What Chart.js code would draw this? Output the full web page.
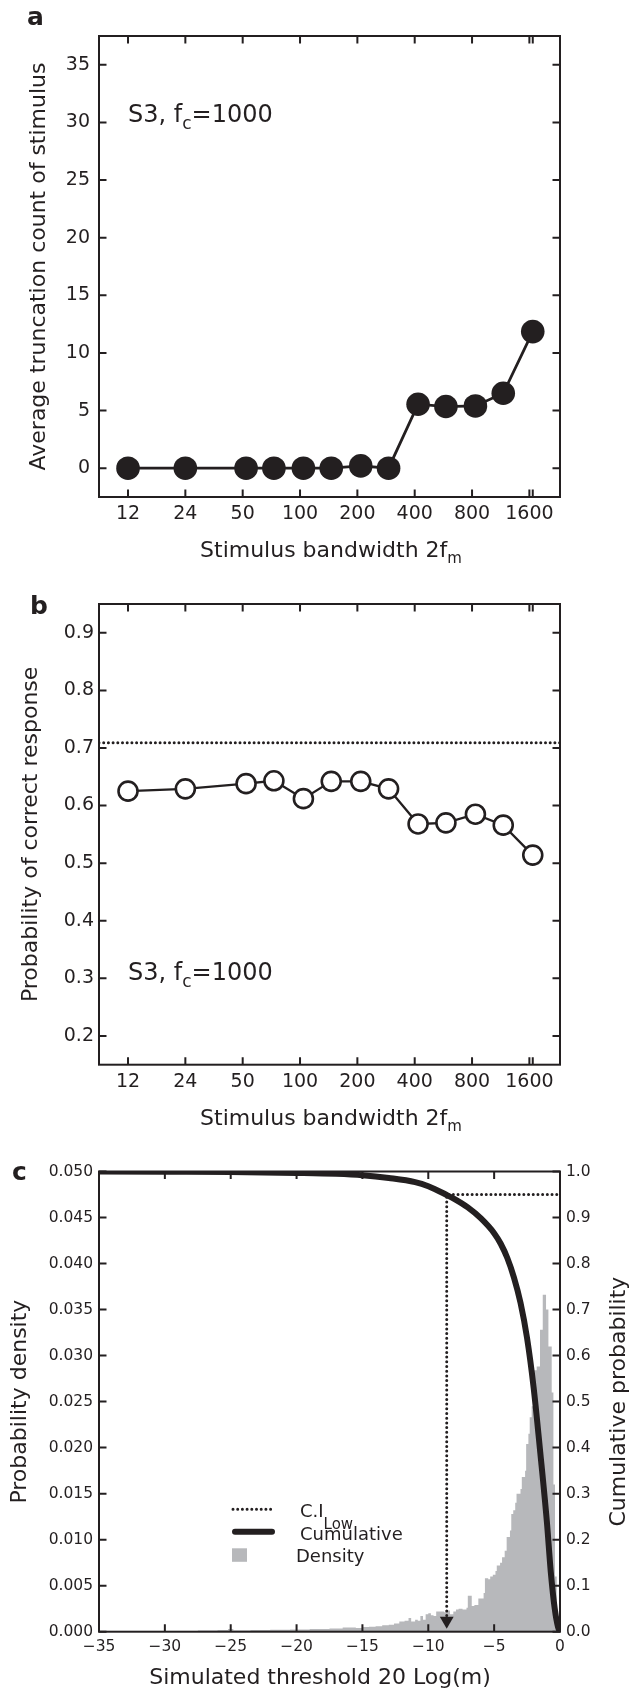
<!DOCTYPE html>
<html>
<head>
<meta charset="utf-8">
<script src="https://cdn.jsdelivr.net/npm/chart.js@4.4.1/dist/chart.umd.min.js"></script>
<style>
  html, body { margin: 0; padding: 0; background: #fff; }
  #wrap { position: relative; width: 634px; height: 1691px; }
  canvas { position: absolute; left: 0; }
</style>
</head>
<body>
<div id="wrap">
  <canvas id="chartA" width="634" height="570" style="top:0px"></canvas>
  <canvas id="chartB" width="634" height="565" style="top:570px"></canvas>
  <canvas id="chartC" width="634" height="556" style="top:1135px"></canvas>
</div>
<script>
// --- data ---
const bandwidths = [12, 24, 50, 70, 100, 140, 200, 280, 400, 560, 800, 1120, 1600];
const truncCount = [0, 0, 0, 0, 0, 0, 0.2, 0, 5.55, 5.35, 5.4, 6.5, 11.85];
const pCorrect   = [0.625, 0.629, 0.638, 0.643, 0.612, 0.642, 0.642, 0.629, 0.568, 0.570, 0.585, 0.566, 0.514];
const thresholdP = 0.709;

const bwTickVals   = [12, 24, 48, 96, 192, 384, 768, 1536, 1600];
const bwTickLabels = ['12', '24', '50', '100', '200', '400', '800', '1600', ''];
const countTicks   = [0, 5, 10, 15, 20, 25, 30, 35];
const probTicks    = [0.2, 0.3, 0.4, 0.5, 0.6, 0.7, 0.8, 0.9];

// histogram of simulated thresholds (bin left edge in dB, probability)
const densX = [-35, -29.5, -27.5, -26, -25.2, -24.8, -23.5, -22, -20.5, -19, -17.5, -16.5, -15.5, -15,
  -14.5, -14, -13.5, -13, -12.6, -12.2, -11.8, -11.5, -11.3, -11, -10.8, -10.6, -10.4, -10.2, -10,
  -9.8, -9.6, -9.4, -9.1, -8.8, -8.6, -8.35, -8.1, -7.9, -7.7, -7.4, -7.1, -7.0, -6.7, -6.5, -6.2,
  -5.8, -5.7, -5.45, -5.3, -5.1, -4.9, -4.8, -4.55, -4.4, -4.2, -4.05, -3.8, -3.7, -3.55, -3.4, -3.3,
  -3.0, -2.9, -2.65, -2.57, -2.4, -2.3, -2.15, -2.0, -1.97, -1.77, -1.52, -1.31, -1.06, -0.88, -0.63,
  -0.5, -0.38, -0.25, 0];
const densY = [0, 0.00008, 0.00012, 0.00018, 0.0003, 0.00012, 0.00018, 0.0002, 0.00025, 0.0003, 0.00035, 0.00045, 0.0004, 0.0005,
  0.00055, 0.0006, 0.0007, 0.00075, 0.0009, 0.0011, 0.0012, 0.0015, 0.0011, 0.0013, 0.0012, 0.0017, 0.0013, 0.0019, 0.002,
  0.0018, 0.0017, 0.0022, 0.0022, 0.0021, 0.0023, 0.0019, 0.0022, 0.0024, 0.0025, 0.0024, 0.0026, 0.0039, 0.0028, 0.0029, 0.0036,
  0.0042, 0.0058, 0.0057, 0.006, 0.0062, 0.0066, 0.0072, 0.0075, 0.0081, 0.0088, 0.0103, 0.0110, 0.0128, 0.0132, 0.0140, 0.015,
  0.0155, 0.0168, 0.0175, 0.0204, 0.0215, 0.0233, 0.0245, 0.0255, 0.0284, 0.0288, 0.0328, 0.0366, 0.035, 0.031, 0.026,
  0.016, 0.006, 0.0015, 0];

// cumulative curve
const cumX = [-35, -30, -25, -20, -17, -15, -13, -11, -10, -8.6, -8, -7, -6, -5, -4.5, -4, -3.5, -3, -2.5, -2,
  -1.5, -1, -0.7, -0.4, -0.15, 0];
const cumY = [1.0, 0.9995, 0.999, 0.997, 0.995, 0.992, 0.986, 0.977, 0.968, 0.949, 0.94, 0.922, 0.898, 0.866, 0.843, 0.812,
  0.77, 0.715, 0.638, 0.53, 0.39, 0.24, 0.13, 0.05, 0.01, 0];

const ciLow = -8.6;
const ciLevel = 0.95;
const ciMarkY = 0.024;

const dbTicks   = [-35, -30, -25, -20, -15, -10, -5, 0];
const densTicks = [0, 0.005, 0.01, 0.015, 0.02, 0.025, 0.03, 0.035, 0.04, 0.045, 0.05];
const cumTicks  = [0, 0.1, 0.2, 0.3, 0.4, 0.5, 0.6, 0.7, 0.8, 0.9, 1.0];

// --- style ---
const INK = '#231f20';
const GREY = '#b7b8bb';
const FONT = "'DejaVu Sans', sans-serif";
const X_MIN = 8.45, X_MAX = 2224;
const DOTS = [0, 4.7];

Chart.defaults.font.family = FONT;
Chart.defaults.color = INK;
Chart.defaults.animation = false;

function drawRich(ctx, segs, x, y, it) {
  if (typeof segs === 'string') segs = [{ t: segs }];
  const size = it.size || 22;
  const subSize = it.subSize || Math.round(size * 0.7);
  const subDy = it.subDy || size * 0.3;
  const weight = it.bold ? 'bold ' : '';
  const fontFor = s => weight + (s.sub ? subSize : size) + 'px ' + FONT;
  ctx.save();
  ctx.translate(x, y);
  if (it.rotate) ctx.rotate(it.rotate);
  ctx.fillStyle = INK;
  ctx.textBaseline = it.baseline || 'alphabetic';
  ctx.textAlign = 'left';
  let w = 0;
  segs.forEach(s => { ctx.font = fontFor(s); w += ctx.measureText(s.t).width; });
  let cx = it.align === 'center' ? -w / 2 : (it.align === 'right' ? -w : 0);
  segs.forEach(s => {
    ctx.font = fontFor(s);
    ctx.fillText(s.t, cx, s.sub ? subDy : 0);
    cx += ctx.measureText(s.t).width;
  });
  ctx.restore();
}

// texte, titres et annotations dessinés par-dessus
function textLayer(items) {
  return {
    id: 'textLayer',
    afterDraw(chart) {
      const a = chart.chartArea;
      items.forEach(it => {
        let x = it.x, y = it.y;
        if (x === 'mid') x = (a.left + a.right) / 2 + (it.dx || 0);
        if (y === 'mid') y = (a.top + a.bottom) / 2 + (it.dy || 0);
        if (it.xv !== undefined) x = chart.scales.x.getPixelForValue(it.xv);
        if (it.yv !== undefined) y = chart.scales[it.ys || 'y'].getPixelForValue(it.yv);
        drawRich(chart.ctx, it.segs, x, y, it);
      });
    }
  };
}

// cadre + graduations vers l'intérieur
const frameTicks = {
  id: 'frameTicks',
  afterDatasetsDraw(chart) {
    const { ctx, chartArea: a } = chart;
    const L = 7.5;
    const scales = Object.values(chart.scales);
    const both = scales.length < 3;
    ctx.save();
    ctx.strokeStyle = INK;
    ctx.lineWidth = 2;
    ctx.strokeRect(a.left, a.top, a.right - a.left, a.bottom - a.top);
    ctx.beginPath();
    scales.forEach(s => {
      s.ticks.forEach(t => {
        const p = s.getPixelForValue(t.value);
        if (s.isHorizontal()) {
          ctx.moveTo(p, a.bottom); ctx.lineTo(p, a.bottom - L);
          ctx.moveTo(p, a.top); ctx.lineTo(p, a.top + L);
        } else {
          if (s.position === 'left' || both) { ctx.moveTo(a.left, p); ctx.lineTo(a.left + L, p); }
          if (s.position === 'right' || both) { ctx.moveTo(a.right, p); ctx.lineTo(a.right - L, p); }
        }
      });
    });
    ctx.stroke();
    ctx.restore();
  }
};

function bwAxis(h) {
  return {
    type: 'logarithmic', min: X_MIN, max: X_MAX,
    grid: { display: false, drawTicks: false }, border: { display: false },
    afterBuildTicks: s => { s.ticks = bwTickVals.map(v => ({ value: v })); },
    ticks: { autoSkip: false, maxRotation: 0, padding: 6, font: { size: 19 }, color: INK,
      callback: (v, i) => bwTickLabels[i] },
    afterFit: s => { s.height = h; }
  };
}

const baseOpts = {
  responsive: false,
  events: [],
  plugins: { legend: { display: false }, tooltip: { enabled: false } }
};

// --- panel a ---
new Chart(document.getElementById('chartA'), {
  type: 'line',
  data: {
    datasets: [{
      data: bandwidths.map((b, i) => ({ x: b, y: truncCount[i] })),
      borderColor: INK, borderWidth: 2.8,
      pointRadius: 11.8, pointBackgroundColor: INK, pointBorderWidth: 0,
      tension: 0
    }]
  },
  options: {
    ...baseOpts,
    layout: { padding: { left: 0, right: 74, top: 36, bottom: 0 } },
    scales: {
      x: bwAxis(73),
      y: {
        min: -2.5, max: 37.5,
        grid: { display: false, drawTicks: false }, border: { display: false },
        afterBuildTicks: s => { s.ticks = countTicks.map(v => ({ value: v })); },
        ticks: { padding: 9, font: { size: 19 }, color: INK, callback: v => String(v) },
        afterFit: s => { s.width = 99; }
      }
    }
  },
  plugins: [frameTicks, textLayer([
    { segs: 'a', x: 27, y: 25, size: 25, bold: true },
    { segs: [{ t: 'S3, f' }, { t: 'c', sub: true }, { t: '=1000' }], xv: 12, yv: 30, size: 24, subSize: 17, subDy: 7 },
    { segs: [{ t: 'Stimulus bandwidth 2f' }, { t: 'm', sub: true }], x: 'mid', dx: 1.5, y: 557, align: 'center', size: 22, subSize: 15, subDy: 6 },
    { segs: 'Average truncation count of stimulus', x: 39, y: 'mid', rotate: -Math.PI / 2, align: 'center', baseline: 'middle', size: 22 }
  ])]
});

// --- panel b ---
new Chart(document.getElementById('chartB'), {
  type: 'line',
  data: {
    datasets: [{
      data: bandwidths.map((b, i) => ({ x: b, y: pCorrect[i] })),
      borderColor: INK, borderWidth: 2.3,
      pointRadius: 9.5, pointBackgroundColor: '#fff', pointBorderColor: INK, pointBorderWidth: 2.6,
      tension: 0
    }, {
      data: [{ x: X_MIN, y: thresholdP }, { x: X_MAX, y: thresholdP }],
      borderColor: INK, borderWidth: 3, borderDash: DOTS, borderCapStyle: 'round',
      pointRadius: 0
    }]
  },
  options: {
    ...baseOpts,
    layout: { padding: { left: 0, right: 74, top: 34, bottom: 0 } },
    scales: {
      x: bwAxis(70.3),
      y: {
        min: 0.15, max: 0.95,
        grid: { display: false, drawTicks: false }, border: { display: false },
        afterBuildTicks: s => { s.ticks = probTicks.map(v => ({ value: v })); },
        ticks: { padding: 5, font: { size: 19 }, color: INK, callback: v => v.toFixed(1) },
        afterFit: s => { s.width = 99; }
      }
    }
  },
  plugins: [frameTicks, textLayer([
    { segs: 'b', x: 30, y: 44, size: 25, bold: true },
    { segs: [{ t: 'S3, f' }, { t: 'c', sub: true }, { t: '=1000' }], xv: 12, yv: 0.297, size: 24, subSize: 17, subDy: 7 },
    { segs: [{ t: 'Stimulus bandwidth 2f' }, { t: 'm', sub: true }], x: 'mid', dx: 1.5, y: 555, align: 'center', size: 22, subSize: 15, subDy: 6 },
    { segs: 'Probability of correct response', x: 31, y: 'mid', rotate: -Math.PI / 2, align: 'center', baseline: 'middle', size: 22 }
  ])]
});

// --- panel c ---
const legendC = {
  id: 'legendC',
  afterDraw(chart) {
    const ctx = chart.ctx;
    ctx.save();
    ctx.strokeStyle = INK;
    ctx.lineCap = 'round';
    ctx.lineWidth = 3;
    ctx.setLineDash(DOTS);
    ctx.beginPath(); ctx.moveTo(233, 374.3); ctx.lineTo(273, 374.3); ctx.stroke();
    ctx.setLineDash([]);
    ctx.lineWidth = 6;
    ctx.beginPath(); ctx.moveTo(235, 396.7); ctx.lineTo(272, 396.7); ctx.stroke();
    ctx.fillStyle = GREY;
    ctx.fillRect(232, 413.3, 15, 13.5);
    ctx.restore();
    drawRich(ctx, [{ t: 'C.I' }, { t: 'Low', sub: true }], 300, 381.7, { size: 18, subSize: 15, subDy: 12 });
    drawRich(ctx, 'Cumulative', 300, 405, { size: 18 });
    drawRich(ctx, 'Density', 296, 426.5, { size: 18 });
  }
};

new Chart(document.getElementById('chartC'), {
  type: 'line',
  data: {
    datasets: [{
      // C.I low
      yAxisID: 'yC', order: 0,
      data: [{ x: ciLow, y: 0.035 }, { x: ciLow, y: ciLevel }, { x: 0, y: ciLevel }],
      borderColor: INK, borderWidth: 3, borderDash: DOTS, borderCapStyle: 'round',
      pointRadius: 0, tension: 0
    }, {
      yAxisID: 'yC', order: 0, showLine: false,
      data: [{ x: ciLow, y: ciMarkY }],
      pointStyle: 'triangle', rotation: 180, pointRadius: 8,
      pointBackgroundColor: INK, pointBorderWidth: 0
    }, {
      // cumulative
      yAxisID: 'yC', order: 1,
      data: cumX.map((x, i) => ({ x: x, y: cumY[i] })),
      borderColor: INK, borderWidth: 6, cubicInterpolationMode: 'monotone',
      borderJoinStyle: 'round', pointRadius: 0
    }, {
      // density histogram
      yAxisID: 'y', order: 2,
      data: densX.map((x, i) => ({ x: x, y: densY[i] })),
      stepped: 'before', fill: 'origin',
      backgroundColor: GREY, borderColor: 'rgba(0,0,0,0)', borderWidth: 1,
      pointRadius: 0
    }]
  },
  options: {
    ...baseOpts,
    layout: { padding: { left: 0, right: 0, top: 36.5, bottom: 0 } },
    scales: {
      x: {
        type: 'linear', min: -35, max: 0,
        grid: { display: false, drawTicks: false }, border: { display: false },
        afterBuildTicks: s => { s.ticks = dbTicks.map(v => ({ value: v })); },
        ticks: { autoSkip: false, maxRotation: 0, padding: 6, font: { size: 15.5 }, color: INK,
          callback: v => v === 0 ? '0' : '\u2212' + Math.abs(v) },
        afterFit: s => { s.height = 59.3; }
      },
      y: {
        position: 'left', min: 0, max: 0.05,
        grid: { display: false, drawTicks: false }, border: { display: false },
        afterBuildTicks: s => { s.ticks = densTicks.map(v => ({ value: v })); },
        ticks: { padding: 6, font: { size: 15.5 }, color: INK, callback: v => v.toFixed(3) },
        afterFit: s => { s.width = 99; }
      },
      yC: {
        position: 'right', min: 0, max: 1,
        grid: { display: false, drawTicks: false }, border: { display: false },
        afterBuildTicks: s => { s.ticks = cumTicks.map(v => ({ value: v })); },
        ticks: { padding: 6, font: { size: 15.5 }, color: INK, callback: v => v.toFixed(1) },
        afterFit: s => { s.width = 74; }
      }
    }
  },
  plugins: [frameTicks, legendC, textLayer([
    { segs: 'c', x: 12, y: 45, size: 25, bold: true },
    { segs: 'Simulated threshold 20 Log(m)', x: 320, y: 549, align: 'center', size: 22 },
    { segs: 'Probability density', x: 20, y: 'mid', rotate: -Math.PI / 2, align: 'center', baseline: 'middle', size: 22 },
    { segs: 'Cumulative probability', x: 619, y: 'mid', rotate: -Math.PI / 2, align: 'center', baseline: 'middle', size: 22 }
  ])]
});
</script>
</body>
</html>
